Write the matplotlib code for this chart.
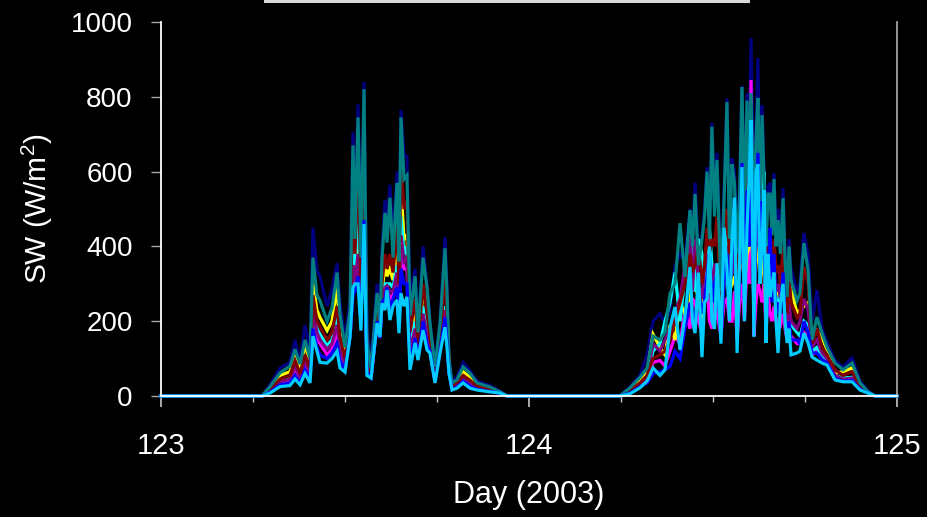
import matplotlib
matplotlib.use("Agg")
import matplotlib.pyplot as plt
from matplotlib.ticker import MultipleLocator
from matplotlib.patches import Rectangle
import numpy as np

plt.rcParams['font.family'] = ['Liberation Sans', 'DejaVu Sans']
plt.rcParams['mathtext.fontset'] = 'custom'
plt.rcParams['mathtext.rm'] = 'Liberation Sans'
plt.rcParams['mathtext.it'] = 'Liberation Sans:italic'

# ---- time stamps (hour of day) ----
hours_day1 = [0.0, 6.59, 7.11, 7.76, 8.41, 8.74, 9.07, 9.39, 9.72, 9.91, 10.17, 10.37, 10.83, 11.15,
              11.48, 11.67, 12.00, 12.33, 12.52, 12.65, 12.85, 13.04, 13.24, 13.43, 13.70, 14.09,
              14.28, 14.41, 14.61, 14.74, 14.93, 15.13, 15.39, 15.52, 15.65, 15.85, 16.04, 16.24,
              16.57, 16.76, 17.09, 17.35, 17.54, 17.87, 18.20, 18.52, 18.65, 18.78, 18.98, 19.30,
              19.70, 20.15, 20.61, 21.46, 22.11, 22.57]
hours_day2 = [5.93, 6.59, 7.24, 7.70, 8.09, 8.54, 8.87, 9.20, 9.52, 9.85, 10.17, 10.50, 10.66,
              10.83, 11.05, 11.28, 11.45, 11.61, 11.77, 11.93, 12.10, 12.26, 12.52, 12.72, 12.91,
              13.07, 13.24, 13.40, 13.57, 13.73, 13.89, 14.05, 14.22, 14.35, 14.48, 14.67, 14.80,
              14.93, 15.07, 15.20, 15.33, 15.46, 15.59, 15.72, 15.85, 15.98, 16.11, 16.24, 16.40,
              16.57, 16.70, 16.83, 16.96, 17.09, 17.48, 17.67, 17.93, 18.20, 18.46, 18.78, 19.11,
              19.43, 19.96, 20.48, 21.07, 21.59, 22.11, 22.57, 24.0]
day1 = 123
day2 = 124

# ---- SW values (W/m2), one pair of lists per series ----
navy_d1 = [0, 0, 30, 75, 90, 150, 95, 190, 120, 450, 335, 320, 240, 285, 355, 250, 150, 260, 705, 480,
           780, 390, 840, 180, 90, 300, 200, 390, 525, 450, 565, 420, 600, 380, 765, 645, 640, 260,
           340, 180, 400, 300, 200, 85, 200, 425, 300, 105, 40, 50, 90, 68, 40, 28, 13, 0]
navy_d2 = [0, 25, 55, 110, 200, 220, 195, 230, 345, 380,
           360, 500, 420, 570, 380, 430, 500, 612, 450, 730,
           500, 650, 300, 550, 795, 450, 636, 600, 400, 550,
           830, 500, 810, 600, 957, 500, 700, 904, 550, 778,
           600, 420, 560, 570, 450, 596, 420, 500, 400, 556,
           380, 300, 420, 340, 280, 300, 436, 380, 200, 283,
           180, 145, 95, 78, 102, 40, 14, 0, 0]

magenta_d1 = [0, 0, 12, 35, 40, 75, 45, 80, 55, 200, 150, 140, 110, 125, 170, 120, 80, 160, 280, 290,
              330, 200, 480, 80, 50, 190, 155, 250, 280, 290, 260, 270, 310, 210, 390, 340, 340, 110,
              170, 110, 210, 150, 120, 40, 125, 220, 150, 65, 20, 26, 42, 30, 20, 14, 8, 0]
magenta_d2 = [0, 10, 28, 45, 90, 95, 80, 120, 160, 140,
              230, 180, 260, 250, 200, 170, 280, 300, 200, 180,
              250, 220, 160, 250, 260, 200, 200, 280, 150, 250,
              300, 200, 350, 300, 845, 160, 250, 300, 280, 250,
              300, 170, 280, 220, 200, 240, 200, 200, 190, 220,
              180, 150, 180, 160, 140, 140, 170, 160, 110, 120,
              100, 90, 50, 42, 45, 20, 8, 0, 0]

yellow_d1 = [0, 0, 22, 55, 65, 110, 70, 140, 85, 300, 230, 210, 175, 200, 290, 180, 110, 200, 380, 330,
             450, 250, 550, 100, 65, 210, 170, 280, 350, 320, 340, 310, 400, 280, 560, 420, 430, 150,
             230, 130, 280, 250, 180, 60, 170, 340, 240, 85, 30, 38, 65, 50, 30, 21, 10, 0]
yellow_d2 = [0, 18, 42, 65, 165, 130, 110, 190, 150, 250,
             220, 250, 320, 300, 260, 200, 300, 350, 280, 280,
             330, 300, 200, 300, 350, 280, 300, 320, 250, 330,
             400, 300, 380, 400, 500, 250, 350, 400, 380, 350,
             320, 230, 330, 300, 280, 320, 280, 280, 250, 300,
             260, 200, 280, 290, 220, 230, 240, 250, 150, 175,
             155, 125, 61, 65, 75, 30, 10, 0, 0]

cyan_d1 = [0, 0, 15, 40, 50, 85, 55, 100, 65, 240, 180, 165, 135, 150, 210, 140, 90, 170, 400, 350,
           500, 230, 520, 90, 55, 200, 160, 260, 300, 300, 300, 290, 350, 240, 480, 380, 400, 130,
           200, 120, 240, 170, 130, 45, 140, 240, 170, 70, 24, 30, 48, 35, 22, 16, 9, 0]
cyan_d2 = [0, 12, 30, 50, 120, 140, 200, 250, 330, 200,
           320, 479, 300, 280, 420, 380, 300, 400, 450, 350,
           300, 300, 180, 500, 420, 300, 350, 400, 200, 380,
           500, 300, 450, 600, 700, 220, 550, 600, 400, 450,
           600, 200, 420, 320, 380, 300, 250, 250, 280, 300,
           250, 170, 230, 190, 170, 160, 200, 190, 120, 130,
           105, 95, 55, 48, 50, 22, 9, 0, 0]

purple_d1 = [0, 0, 14, 38, 45, 80, 50, 95, 60, 230, 170, 150, 125, 140, 190, 130, 85, 165, 350, 300,
             380, 220, 500, 85, 55, 195, 160, 255, 290, 295, 280, 280, 330, 230, 430, 360, 370, 120,
             180, 115, 220, 160, 125, 42, 130, 230, 160, 68, 22, 28, 45, 32, 21, 15, 9, 0]
purple_d2 = [0, 12, 30, 50, 140, 120, 150, 180, 220, 260,
             350, 436, 280, 420, 300, 260, 350, 380, 300, 300,
             350, 350, 190, 350, 400, 300, 330, 400, 220, 350,
             450, 280, 500, 400, 600, 240, 400, 500, 350, 420,
             400, 250, 350, 330, 300, 350, 280, 300, 260, 320,
             240, 180, 250, 200, 180, 200, 260, 230, 130, 150,
             115, 100, 55, 45, 48, 22, 9, 0, 0]

darkred_d1 = [0, 0, 18, 45, 55, 95, 60, 110, 75, 270, 200, 185, 150, 170, 240, 160, 100, 180, 560, 380,
              610, 300, 650, 110, 60, 230, 165, 300, 380, 340, 380, 330, 450, 300, 620, 500, 520, 170,
              260, 140, 300, 220, 160, 55, 160, 320, 220, 80, 28, 35, 55, 42, 27, 19, 10, 0]
darkred_d2 = [0, 15, 35, 55, 100, 110, 120, 150, 200, 250,
              300, 380, 330, 350, 400, 300, 350, 450, 380, 420,
              400, 480, 220, 400, 500, 380, 430, 450, 300, 400,
              550, 350, 600, 450, 650, 300, 500, 550, 420, 500,
              450, 300, 400, 380, 350, 420, 330, 350, 300, 400,
              300, 220, 320, 250, 210, 220, 345, 300, 140, 180,
              130, 110, 70, 55, 65, 28, 10, 0, 0]

teal_d1 = [0, 0, 25, 62, 80, 125, 85, 150, 100, 370, 270, 255, 200, 235, 330, 220, 130, 230, 670, 420,
           745, 370, 820, 145, 75, 275, 190, 365, 490, 410, 530, 370, 570, 360, 745, 580, 590, 215,
           320, 170, 370, 290, 195, 78, 195, 395, 280, 96, 35, 43, 78, 61, 35, 24, 11, 0]
teal_d2 = [0, 22, 50, 75, 160, 150, 170, 275, 300, 462,
           318, 497, 400, 540, 350, 417, 480, 600, 420, 720,
           480, 631, 280, 520, 786, 420, 620, 570, 380, 530,
           826, 480, 790, 580, 810, 450, 680, 797, 520, 751,
           580, 400, 540, 540, 430, 580, 400, 470, 380, 529,
           360, 265, 400, 310, 255, 275, 409, 337, 150, 211,
           168, 131, 88, 70, 88, 35, 11, 0, 0]

blue_d1 = [0, 0, 10, 30, 35, 55, 35, 70, 45, 180, 130, 110, 100, 115, 140, 95, 70, 160, 270, 280,
           320, 190, 470, 65, 50, 200, 155, 250, 260, 290, 230, 260, 290, 190, 340, 300, 300, 90,
           155, 100, 200, 140, 120, 38, 120, 210, 145, 64, 18, 24, 40, 26, 18, 12, 8, 0]
blue_d2 = [0, 8, 25, 35, 60, 65, 70, 80, 120, 100,
           180, 250, 230, 200, 280, 220, 260, 320, 380, 250,
           300, 330, 150, 300, 380, 250, 400, 450, 170, 300,
           623, 250, 550, 400, 700, 200, 450, 650, 350, 520,
           450, 180, 300, 450, 250, 380, 220, 250, 220, 330,
           200, 160, 200, 150, 150, 140, 200, 170, 115, 115,
           98, 88, 48, 40, 42, 18, 8, 0, 0]

skyblue_d1 = [0, 0, 8, 25, 28, 45, 30, 60, 35, 160, 120, 90, 88, 100, 120, 75, 64, 158, 290, 300,
              300, 175, 460, 55, 48, 195, 158, 248, 230, 283, 203, 240, 257, 168, 275, 240, 265, 70,
              142, 96, 176, 123, 115, 35, 115, 184, 131, 61, 16, 21, 35, 21, 16, 11, 8, 0]
skyblue_d2 = [0, 6, 22, 40, 75, 55, 70, 184, 238, 123,
              211, 345, 200, 168, 330, 104, 250, 260, 400, 200,
              180, 355, 140, 450, 340, 200, 420, 530, 115, 350,
              612, 200, 450, 580, 738, 158, 600, 620, 300, 409,
              550, 142, 380, 265, 300, 330, 200, 115, 250, 300,
              200, 142, 180, 110, 115, 120, 168, 142, 104, 96,
              88, 83, 43, 38, 38, 16, 8, 0, 0]

series = [
    ('#000080', navy_d1, navy_d2),
    ('#FF00FF', magenta_d1, magenta_d2),
    ('#FFFF00', yellow_d1, yellow_d2),
    ('#00FFFF', cyan_d1, cyan_d2),
    ('#800080', purple_d1, purple_d2),
    ('#800000', darkred_d1, darkred_d2),
    ('#008080', teal_d1, teal_d2),
    ('#0000FF', blue_d1, blue_d2),
    ('#00CCFF', skyblue_d1, skyblue_d2),
]

x_ticks = [123, 124, 125]
y_ticks = [0, 200, 400, 600, 800, 1000]

t = np.concatenate([day1 + np.array(hours_day1) / 24.0, day2 + np.array(hours_day2) / 24.0])

fig = plt.figure(figsize=(9.28, 5.17), dpi=100, facecolor='black')
ax = fig.add_axes([161 / 928, 1 - 396 / 517, (897 - 161) / 928, (396 - 22) / 517])
ax.set_facecolor('black')

for color, d1, d2 in series:
    ax.plot(t, list(d1) + list(d2), color=color, lw=2.3, solid_joinstyle='miter', clip_on=False)

ax.set_xlim(123, 125)
ax.set_ylim(0, 1000)
ax.set_xticks(x_ticks)
ax.set_xticklabels([str(v) for v in x_ticks])
ax.xaxis.set_minor_locator(MultipleLocator(0.25))
ax.set_yticks(y_ticks)
ax.set_yticklabels([str(v) for v in y_ticks])

for s in ['left', 'bottom']:
    ax.spines[s].set_color('white')
    ax.spines[s].set_linewidth(1.3)
ax.spines['top'].set_visible(False)
ax.spines['right'].set_color('#B0B0B0')
ax.spines['right'].set_linewidth(1.2)

ax.tick_params(axis='y', which='major', direction='out', length=7.5, width=1.0,
               color='#A8A8A8', labelcolor='white', labelsize=20, pad=13)
ax.tick_params(axis='x', which='major', direction='out', length=8, width=1.2,
               color='#C8C8C8', labelcolor='white', labelsize=21, pad=18)
ax.tick_params(axis='x', which='minor', direction='out', length=4.5, width=1.0,
               color='#C8C8C8')

ax.set_xlabel('Day (2003)', color='white', fontsize=22, labelpad=14)
ax.set_ylabel('SW (W/m$^{2}$)', color='white', fontsize=21.5, labelpad=11)

# partially visible element at the top edge of the slide
fig.patches.append(Rectangle((264 / 928, 1 - 3 / 517), (750 - 264) / 928, 3 / 517,
                             transform=fig.transFigure, facecolor='#D8D8D8',
                             edgecolor='none'))

fig.savefig('out.png', dpi=100, facecolor='black')
